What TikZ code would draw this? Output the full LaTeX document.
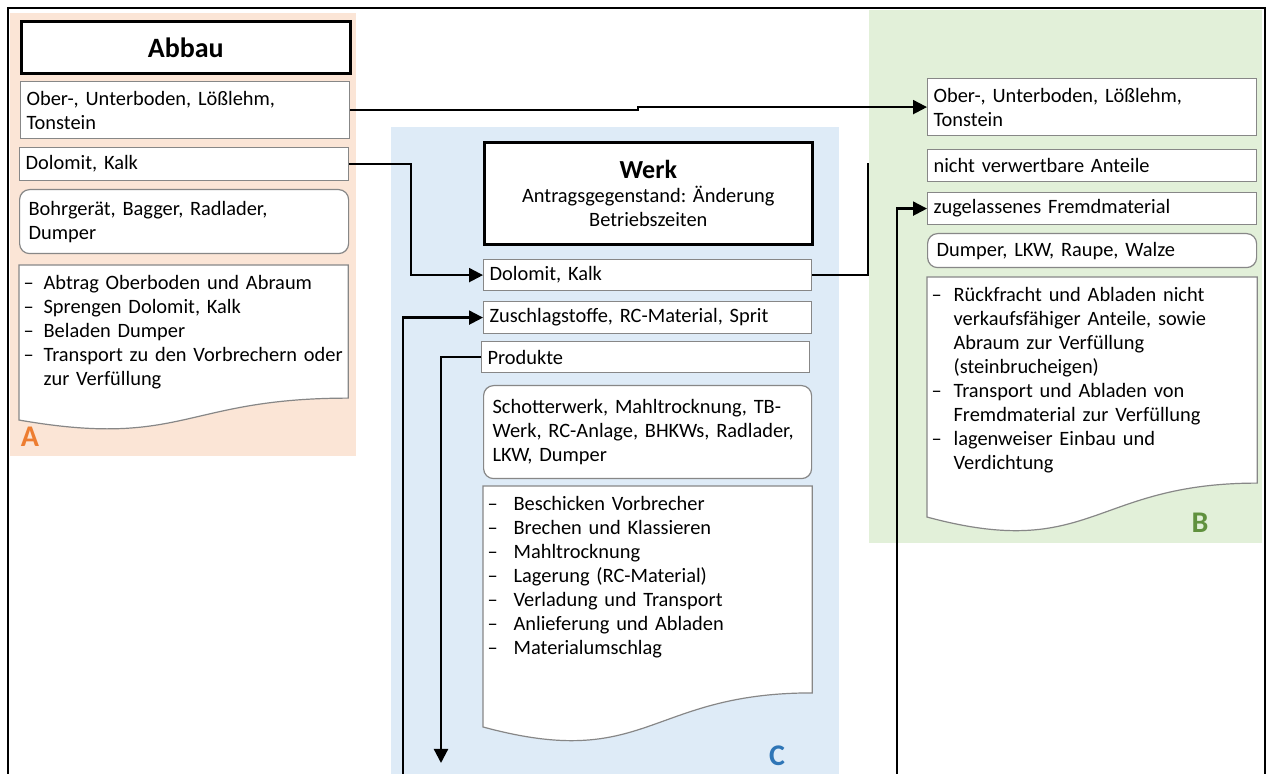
\documentclass[tikz,border=0pt]{standalone}
\usepackage{fontspec}
\setmainfont{Carlito}
\usetikzlibrary{arrows.meta,calc}
\frenchspacing

\definecolor{abbaubg}{RGB}{251,229,214}
\definecolor{werkbg}{RGB}{222,235,247}
\definecolor{verfbg}{RGB}{226,240,217}
\definecolor{boxgray}{RGB}{135,135,135}
\definecolor{abbauorange}{RGB}{237,125,49}
\definecolor{verfgreen}{RGB}{96,145,62}
\definecolor{werkblue}{RGB}{46,117,182}

\pgfdeclarelayer{bg}
\pgfdeclarelayer{mid}
\pgfsetlayers{bg,mid,main}

\tikzset{
  box/.style 2 args={draw=boxgray, fill=white, line width=0.6pt, anchor=north west,
    align=left, inner xsep=3pt, inner ysep=2pt,
    minimum width=#1*0.5pt, minimum height=#2*0.5pt, text width=#1*0.5pt-6pt},
  roundbox/.style 2 args={box={#1}{#2}, rounded corners=5pt, inner xsep=4.5pt,
    text width=#1*0.5pt-9pt},
  titlebox/.style 2 args={box={#1}{#2}, draw=black, line width=1.3pt, align=center},
  docbox/.style={box={#1}{10}, draw=none, fill=none, inner xsep=2pt,
    text width=#1*0.5pt-4pt, inner ysep=5pt},
  docline/.style={draw=boxgray, fill=white, line width=0.6pt},
  conn/.style={line width=1.1pt},
  arr/.style={conn, -{Triangle[length=7pt,width=7pt]}},
  tag/.style={font=\bfseries\fontsize{15}{15}\selectfont}
}

% list lines
\newcommand\itm[2]{\mbox{\makebox[#1][l]{--}#2}}
\newcommand\gap[2]{\mbox{\hspace*{#1}#2}}

% wavy document outline behind a node
\newcommand\docpath[2]{%
  \begin{pgfonlayer}{mid}
    \draw[docline] (#1.north west) -- (#1.north east) -- ++(0,{0.802*#2})
      .. controls ($(#1.north)+(0,{0.802*#2})$) and ($(#1.north)+(0,{1.107*#2})$)
      .. ($(#1.north west)+(0,{0.934*#2})$) -- cycle;
  \end{pgfonlayer}}

\begin{document}
\begin{tikzpicture}[x=0.5pt,y=-0.5pt,font=\fontsize{10.2}{12}\selectfont]
\useasboundingbox (0,0) rectangle (1266,774);

% Panels
\begin{pgfonlayer}{bg}
  \fill[abbaubg] (10,13) rectangle (356,456);
  \fill[werkbg] (391,127) rectangle (839,774);
  \fill[verfbg] (869,10) rectangle (1262,543);
\end{pgfonlayer}

% Frame
\draw[line width=1pt] (8,774) -- (8,8) -- (1265,8) -- (1265,774);

% Abbau
\node[titlebox={329}{52}, font=\bfseries\fontsize{14}{16}\selectfont] (abbau) at (20,20) {Abbau};
\node[box={329}{57}] (aBoden) at (20,81) {Ober-, Unterboden, Lößlehm,\\Tonstein};
\node[box={329}{33}] (aDolo) at (19,147) {Dolomit, Kalk};
\node[roundbox={329}{64}] (aGeraet) at (19,189) {Bohrgerät, Bagger, Radlader,\\Dumper};
\node[docbox={328}] (aDoc) at (19,265) {%
  \itm{10pt}{Abtrag Oberboden und Abraum}\\
  \itm{10pt}{Sprengen Dolomit, Kalk}\\
  \itm{10pt}{Beladen Dumper}\\
  \itm{10pt}{Transport zu den Vorbrechern oder}\\
  \gap{10pt}{zur Verfüllung}};
\docpath{aDoc}{166}
\node[tag, text=abbauorange] (labA) at (30,437) {A};

% Werk
\node[titlebox={328}{102}] (werk) at (483,141)
  {{\bfseries\fontsize{13}{15}\selectfont Werk}\\Antragsgegenstand: Änderung\\Betriebszeiten};
\node[box={328}{31}] (cDolo) at (483,259) {Dolomit, Kalk};
\node[box={328}{32}] (cZusch) at (483,301) {Zuschlagstoffe, RC-Material, Sprit};
\node[box={328}{31}] (cProd) at (481,341) {Produkte};
\node[roundbox={328}{93}] (cGeraet) at (483,385)
  {Schotterwerk, Mahltrocknung, TB-\\Werk, RC-Anlage, BHKWs, Radlader,\\LKW, Dumper};
\node[docbox={328}] (cDoc) at (483,486) {%
  \itm{13pt}{Beschicken Vorbrecher}\\
  \itm{13pt}{Brechen und Klassieren}\\
  \itm{13pt}{Mahltrocknung}\\
  \itm{13pt}{Lagerung (RC-Material)}\\
  \itm{13pt}{Verladung und Transport}\\
  \itm{13pt}{Anlieferung und Abladen}\\
  \itm{13pt}{Materialumschlag}};
\docpath{cDoc}{258}
\node[tag, text=werkblue] (labC) at (777,756) {C};

% Verfuellung
\node[box={329}{57}] (bBoden) at (927,78) {Ober-, Unterboden, Lößlehm,\\Tonstein};
\node[box={329}{32}] (bRest) at (927,149) {nicht verwertbare Anteile};
\node[box={329}{32}] (bFremd) at (927,192) {zugelassenes Fremdmaterial};
\node[roundbox={329}{34}] (bGeraet) at (927,233) {Dumper, LKW, Raupe, Walze};
\node[docbox={329}] (bDoc) at (927,277) {%
  \itm{11pt}{Rückfracht und Abladen nicht}\\
  \gap{11pt}{verkaufsfähiger Anteile, sowie}\\
  \gap{11pt}{Abraum zur Verfüllung}\\
  \gap{11pt}{(steinbrucheigen)}\\
  \itm{11pt}{Transport und Abladen von}\\
  \gap{11pt}{Fremdmaterial zur Verfüllung}\\
  \itm{11pt}{lagenweiser Einbau und}\\
  \gap{11pt}{Verdichtung}};
\docpath{bDoc}{257}
\node[tag, text=verfgreen] (labB) at (1200,523) {B};

% Connectors
\coordinate (step) at (638,108);
\coordinate (knA) at (411,220);
\coordinate (endC) at (868,163);
\coordinate (inZ) at (403,774);
\coordinate (outP) at (441,763);
\coordinate (inF) at (897,774);
\draw[arr] (aBoden.east) -| (step) |- (bBoden.west);
\draw[arr] (aDolo.east) -| (knA) |- (cDolo.west);
\draw[conn] (cDolo.east) -| (endC);
\draw[arr] (inZ) |- (cZusch.west);
\draw[arr] (cProd.west) -| (outP);
\draw[arr] (inF) |- (bFremd.west);
\end{tikzpicture}
\end{document}
